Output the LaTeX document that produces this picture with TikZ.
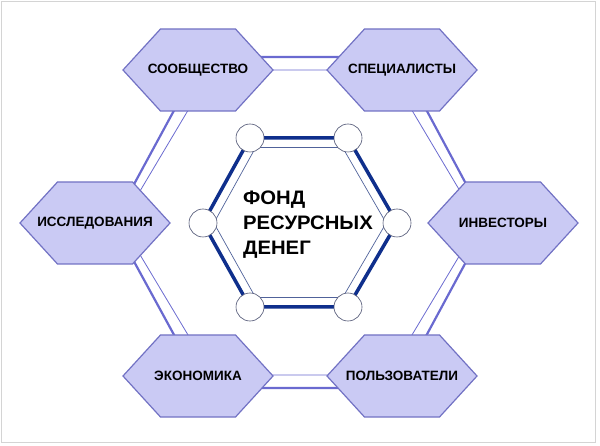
\documentclass[tikz,border=0pt]{standalone}
\usepackage{fontspec}
\setsansfont{Liberation Sans}
\newfontfamily\widesans[FakeStretch=1.04]{Liberation Sans}
\usetikzlibrary{calc}

\definecolor{cellfill}{HTML}{CACAF4}
\definecolor{cellline}{HTML}{7272C4}
\definecolor{ringcol}{HTML}{6A6AD0}
\definecolor{corecol}{HTML}{0F2F8C}
\definecolor{corethin}{HTML}{50629A}
\definecolor{jointline}{HTML}{4A5070}
\definecolor{framecol}{HTML}{D4D4D4}

\pgfdeclarelayer{background}
\pgfsetlayers{background,main}

\begin{document}
\begin{tikzpicture}[x=1pt,y=-1pt,
	cell/.style={minimum width=150pt, minimum height=82pt, inner sep=0pt, outer sep=0pt,
		font=\sffamily\bfseries\fontsize{13.5}{16}\selectfont},
	cellshape/.style={draw=cellline, fill=cellfill, line width=1.2pt},
	joint/.style={circle, draw=jointline, fill=white, line width=0.6pt,
		minimum size=28pt, inner sep=0pt},
	ringthick/.style={draw=ringcol, line width=2.2pt},
	ringthin/.style={draw=ringcol, line width=0.8pt},
	core/.style={draw=corecol, line width=3.5pt},
	corelite/.style={draw=corethin, line width=0.7pt}]
			\useasboundingbox (0,0) rectangle (600,446);
			\draw[framecol, line width=1pt] (1.5,1.5) rectangle (595,442);
			% outer cells
			\node[cell] (soc) at (198,70)  {СООБЩЕСТВО};
			\node[cell] (spe) at (402,70)  {СПЕЦИАЛИСТЫ};
			\node[cell] (inv) at (503,223) {ИНВЕСТОРЫ};
			\node[cell] (pol) at (402,376) {ПОЛЬЗОВАТЕЛИ};
			\node[cell] (eco) at (198,376) {ЭКОНОМИКА};
			\node[cell] (iss) at (95,223)  {ИССЛЕДОВАНИЯ};
			% outer ring
			\coordinate (o1) at (203,57);  \coordinate (o2) at (398,57);
			\coordinate (o3) at (487,223); \coordinate (o4) at (398,388);
			\coordinate (o5) at (203,388); \coordinate (o6) at (113,223);
			\coordinate (i1) at (212,70);  \coordinate (i2) at (388,70);
			\coordinate (i3) at (479,223); \coordinate (i4) at (388,375);
			\coordinate (i5) at (212,375); \coordinate (i6) at (121,223);
			\begin{pgfonlayer}{background}
				\draw[ringthick] (o1) -- (o2) -- (o3) -- (o4) -- (o5) -- (o6) -- cycle;
				\draw[ringthin] (i1) -- (i2) -- (i3) -- (i4) -- (i5) -- (i6) -- cycle;
				\foreach \n in {soc,spe,inv,pol,eco,iss}
					\draw[cellshape] ([shift={(-75,0)}]\n.center) -- ([shift={(-37.5,-41)}]\n.center)
						-- ([shift={(37.5,-41)}]\n.center) -- ([shift={(75,0)}]\n.center)
						-- ([shift={(37.5,41)}]\n.center) -- ([shift={(-37.5,41)}]\n.center) -- cycle;
			\end{pgfonlayer}
			% inner core
			\coordinate (ctr) at (300,223);
			\coordinate (c1) at (250,138); \coordinate (c2) at (348,138);
			\coordinate (c3) at (397,223); \coordinate (c4) at (348,307);
			\coordinate (c5) at (250,307); \coordinate (c6) at (203,223);
			\draw[core] (c1) -- (c2) -- (c3) -- (c4) -- (c5) -- (c6) -- cycle;
			\draw[corelite] ($(ctr)!0.888!(c1)$) -- ($(ctr)!0.888!(c2)$) -- ($(ctr)!0.888!(c3)$)
				-- ($(ctr)!0.888!(c4)$) -- ($(ctr)!0.888!(c5)$) -- ($(ctr)!0.888!(c6)$) -- cycle;
			\foreach \k in {1,...,6}
				\node[joint] (j\k) at (c\k) {};
			\node[align=left, font=\widesans\bfseries\fontsize{19.5}{25}\selectfont]
				(fund) at (308,225) {ФОНД\\РЕСУРСНЫХ\\ДЕНЕГ};
		\end{tikzpicture}
\end{document}
